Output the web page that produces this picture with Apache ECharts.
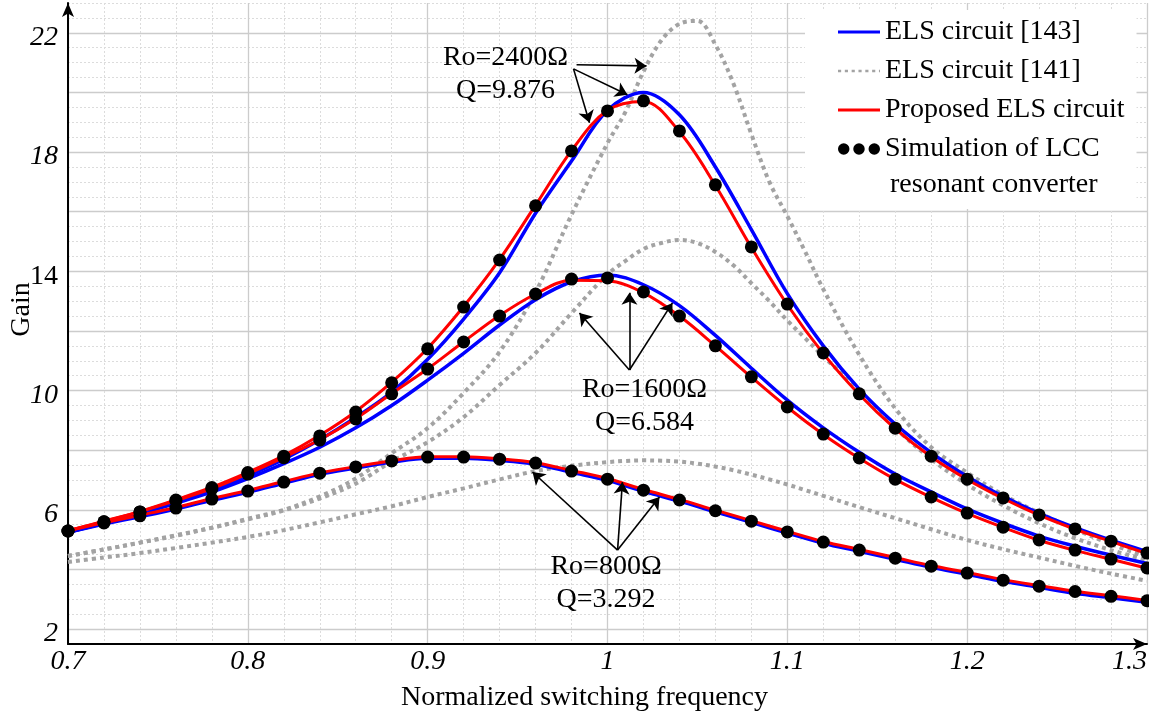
<!DOCTYPE html>
<html><head><meta charset="utf-8">
<script src="https://cdn.jsdelivr.net/npm/echarts@6/dist/echarts.min.js"></script>
<style>html,body{margin:0;padding:0;background:#fff}#c{width:1149px;height:715px}</style>
</head><body><div id="c"></div>
<script>
// ---- data ----
const xGrid = [0.70,0.72,0.74,0.76,0.78,0.80,0.82,0.84,0.86,0.88,0.90,0.92,0.94,0.96,0.98,1.00,1.02,1.04,1.06,1.08,1.10,1.12,1.14,1.16,1.18,1.20,1.22,1.24,1.26,1.28,1.30];
const xGray = [0.70,0.72,0.74,0.76,0.78,0.80,0.82,0.84,0.86,0.88,0.90,0.92,0.94,0.96,0.98,1.00,1.01,1.02,1.03,1.04,1.05,1.06,1.07,1.08,1.09,1.10,1.11,1.12,1.14,1.16,1.18,1.20,1.22,1.24,1.26,1.28,1.30];

const sim2400 = [5.29,5.6,5.93,6.33,6.75,7.25,7.8,8.48,9.28,10.26,11.4,12.8,14.38,16.2,18.04,19.38,19.72,18.71,16.9,14.82,12.9,11.26,9.89,8.74,7.8,7.03,6.4,5.83,5.36,4.95,4.55];
const sim1600 = [5.29,5.6,5.93,6.3,6.7,7.2,7.75,8.34,9.05,9.89,10.72,11.63,12.5,13.24,13.74,13.78,13.31,12.5,11.5,10.46,9.45,8.54,7.74,7.03,6.43,5.89,5.42,4.99,4.65,4.35,4.05];
const sim800  = [5.29,5.56,5.8,6.06,6.36,6.63,6.93,7.23,7.44,7.64,7.77,7.77,7.7,7.57,7.3,7.03,6.66,6.33,5.97,5.62,5.26,4.92,4.65,4.38,4.11,3.88,3.64,3.44,3.26,3.1,2.95];

const red2400 = [5.3,5.62,5.95,6.34,6.76,7.26,7.82,8.5,9.3,10.28,11.42,12.82,14.4,16.22,18.05,19.4,19.7,18.68,16.88,14.8,12.88,11.24,9.87,8.72,7.78,7.02,6.38,5.82,5.35,4.94,4.53];
const red1600 = [5.3,5.61,5.94,6.31,6.71,7.21,7.76,8.35,9.06,9.9,10.73,11.64,12.52,13.24,13.7,13.68,13.28,12.5,11.5,10.45,9.44,8.53,7.73,7.02,6.42,5.88,5.41,4.98,4.64,4.34,4.04];
const red800  = [5.3,5.57,5.82,6.08,6.38,6.65,6.95,7.24,7.45,7.65,7.78,7.78,7.71,7.58,7.32,7.05,6.68,6.35,5.99,5.64,5.28,4.94,4.67,4.4,4.13,3.9,3.66,3.46,3.27,3.12,2.96];

const blue2400 = [5.25,5.57,5.9,6.28,6.68,7.15,7.7,8.35,9.1,9.95,11.05,12.4,13.95,15.95,17.7,19.4,20.0,19.25,17.5,15.4,13.25,11.5,10.05,8.88,7.92,7.12,6.45,5.88,5.4,4.98,4.6];
const blue1600 = [5.25,5.55,5.87,6.22,6.6,7.05,7.55,8.1,8.75,9.5,10.35,11.25,12.2,13.05,13.65,13.88,13.55,12.85,11.85,10.75,9.68,8.75,7.93,7.2,6.6,6.03,5.55,5.12,4.78,4.48,4.2];
const blue800  = [5.25,5.52,5.77,6.03,6.32,6.59,6.89,7.19,7.4,7.6,7.73,7.73,7.66,7.53,7.26,6.99,6.62,6.29,5.93,5.58,5.22,4.88,4.61,4.34,4.07,3.84,3.6,3.4,3.2,3.05,2.9];

const gray2400 = [4.45,4.67,4.9,5.15,5.4,5.7,6.0,6.45,7.05,7.9,8.74,9.92,11.3,13.3,15.9,18.3,19.35,20.7,21.75,22.3,22.4,21.6,20.3,18.6,17.0,15.85,14.65,13.4,11.2,9.4,8.1,7.25,6.5,5.9,5.35,4.85,4.42];
const gray1600 = [4.45,4.67,4.9,5.13,5.4,5.68,5.98,6.38,6.88,7.62,8.27,9.11,10.19,11.26,12.6,13.9,14.35,14.75,14.95,15.05,14.95,14.65,14.2,13.6,13.0,12.35,11.75,11.15,10.0,8.75,7.7,6.85,6.15,5.55,5.05,4.65,4.32];
const gray800  = [4.25,4.4,4.55,4.72,4.9,5.09,5.32,5.58,5.85,6.12,6.43,6.72,7.02,7.3,7.48,7.6,7.64,7.66,7.65,7.62,7.55,7.45,7.33,7.18,7.02,6.85,6.66,6.47,6.09,5.72,5.35,4.99,4.68,4.4,4.12,3.86,3.62];

const legendNames = ['ELS circuit [143]','ELS circuit [141]','Proposed ELS circuit','Simulation of LCC'];
const legendSecondLine = 'resonant converter';
const xAxisTitle = 'Normalized switching frequency';
const yAxisTitle = 'Gain';

// annotation texts and anchor points (data units)
const noteTexts = ['Ro=2400\u03A9\nQ=9.876','Ro=1600\u03A9\nQ=6.584','Ro=800\u03A9\nQ=3.292'];
const noteAt = [[0.9433,20.61],[1.0206,9.48],[0.9992,3.54]];
// arrows: [from, to] in data units
const arrows = [
  [[0.9828,20.93],[1.0217,20.89]],
  [[0.9811,20.79],[1.0111,19.92]],
  [[0.9811,20.79],[0.9900,18.98]],
  [[1.0122,10.69],[0.9844,12.60]],
  [[1.0122,10.69],[1.0122,13.28]],
  [[1.0122,10.69],[1.0361,12.94]],
  [[1.0056,4.65],[0.9583,7.27]],
  [[1.0056,4.65],[1.0083,6.93]],
  [[1.0056,4.65],[1.0289,6.43]]
];

// ---- chart ----
const FONT = '"Liberation Serif","Times New Roman",serif';
const MAJOR = '#cccccc', MINOR = '#dcdcdc', NONE = 'rgba(0,0,0,0)';
const BLUE = '#0000ff', RED = '#ff0000', GRAY = '#a3a3a3';
function pairs(xs, ys) { return xs.map((x, i) => [x, ys[i]]); }

const chart = echarts.init(document.getElementById('c'));

function lineSeries(name, xs, ys, color, width, z, type) {
  return {
    type: 'line', name: name, data: pairs(xs, ys), symbol: 'none', smooth: 0.35,
    z: z, itemStyle: { color: color },
    lineStyle: { color: color, width: width, type: type || 'solid', cap: 'butt' }
  };
}
function simSeries(ys) {
  return { type: 'scatter', name: legendNames[3], data: pairs(xGrid, ys), symbol: 'circle', symbolSize: 13,
    itemStyle: { color: '#000', opacity: 1 }, z: 6 };
}

const solidIcon = 'path://M0,0H40V3H0Z';
const dottedIcon = 'path://M0,0h3v2.4h-3z M6.5,0h3v2.4h-3z M13,0h3v2.4h-3z M19.5,0h3v2.4h-3z M26,0h3v2.4h-3z M32.5,0h3v2.4h-3z M39,0h1v2.4h-1z';
const dotsIcon = 'path://M0,6a6,6 0 1,0 12,0a6,6 0 1,0 -12,0Z M16,6a6,6 0 1,0 12,0a6,6 0 1,0 -12,0Z M32,6a6,6 0 1,0 12,0a6,6 0 1,0 -12,0Z';

const option = {
  animation: false,
  backgroundColor: '#fff',
  grid: { left: 68, right: 2, top: 3, bottom: 71, containLabel: false, outerBoundsMode: 'none' },
  legend: {
    orient: 'vertical', left: 805, top: 10, itemWidth: 42, itemHeight: 14, itemGap: 11,
    padding: [8, 12, 46, 33], backgroundColor: '#fff', selectedMode: false, z: 20,
    textStyle: { fontFamily: FONT, fontSize: 28, color: '#000' },
    data: [
      { name: legendNames[0], icon: solidIcon },
      { name: legendNames[1], icon: dottedIcon },
      { name: legendNames[2], icon: solidIcon },
      { name: legendNames[3], icon: dotsIcon }
    ]
  },
  graphic: [{
    type: 'text', left: 890, top: 171, z: 100,
    style: { text: legendSecondLine, font: '28px ' + FONT, fill: '#000' }
  }],
  xAxis: [{
    type: 'value', min: 0.7, max: 1.3, interval: 0.02,
    name: xAxisTitle, nameLocation: 'middle', nameGap: 40, nameMoveOverlap: false,
    nameTextStyle: { fontFamily: FONT, fontSize: 28, color: '#000', padding: [0, 46, 0, 0] },
    axisLine: { show: true, lineStyle: { color: '#000', width: 2 }, symbol: ['none', 'arrow'], symbolSize: [9, 14] },
    axisTick: { show: false },
    axisLabel: {
      fontFamily: FONT, fontSize: 28, fontStyle: 'italic', color: '#000', margin: 4, alignMaxLabel: 'right',
      formatter: v => { const k = Math.round(v * 100); return k % 10 === 0 ? String(k / 100) : ''; }
    },
    splitLine: { show: true, lineStyle: { color: [NONE, MINOR, MINOR, MINOR, MINOR], width: 1, type: [2, 2] } }
  }, {
    type: 'value', min: 0.7, max: 1.3, interval: 0.02, position: 'top',
    axisLine: { show: false }, axisTick: { show: false }, axisLabel: { show: false },
    splitLine: { show: true, lineStyle: { color: [MAJOR, NONE, NONE, NONE, NONE], width: 1.3, type: 'solid' } }
  }],
  yAxis: [{
    type: 'value', min: 1.5, max: 23, interval: 0.5,
    name: yAxisTitle, nameLocation: 'middle', nameGap: 32, nameRotate: 90, nameMoveOverlap: false,
    nameTextStyle: { fontFamily: FONT, fontSize: 28, color: '#000', padding: [0, 0, 0, 28] },
    axisLine: { show: true, lineStyle: { color: '#000', width: 2 }, symbol: ['none', 'arrow'], symbolSize: [9, 14] },
    axisTick: { show: false },
    axisLabel: {
      fontFamily: FONT, fontSize: 28, fontStyle: 'italic', color: '#000', margin: 10, padding: [10, 0, 0, 0],
      rich: { u: { fontFamily: FONT, fontSize: 28, fontStyle: 'normal', color: '#000' } },
      formatter: v => { const r = Math.round(v * 2) / 2; if (Number.isInteger(r) && (r - 2) % 4 === 0) { return r === 14 ? '{u|14}' : String(r); } return ''; }
    },
    splitLine: { show: true, lineStyle: { color: [MINOR, NONE, MINOR, MINOR], width: 1, type: [2, 2] } }
  }, {
    type: 'value', min: 1.5, max: 23, interval: 0.5, position: 'right',
    axisLine: { show: false }, axisTick: { show: false }, axisLabel: { show: false },
    splitLine: { show: true, lineStyle: { color: [NONE, MAJOR, NONE, NONE], width: 1.3, type: 'solid' } }
  }],
  series: [
    lineSeries(legendNames[1], xGray, gray2400, GRAY, 4, 2, [4, 4]),
    lineSeries(legendNames[1], xGray, gray1600, GRAY, 4, 2, [4, 4]),
    lineSeries(legendNames[1], xGray, gray800, GRAY, 4, 2, [4, 4]),
    lineSeries(legendNames[0], xGrid, blue2400, BLUE, 3.5, 3),
    lineSeries(legendNames[0], xGrid, blue1600, BLUE, 3.5, 3),
    lineSeries(legendNames[0], xGrid, blue800, BLUE, 3.5, 3),
    lineSeries(legendNames[2], xGrid, red2400, RED, 3, 4),
    lineSeries(legendNames[2], xGrid, red1600, RED, 3, 4),
    lineSeries(legendNames[2], xGrid, red800, RED, 3, 4),
    simSeries(sim2400),
    simSeries(sim1600),
    simSeries(sim800),
    {
      type: 'line', name: 'annotations', data: [], z: 8, silent: true,
      markLine: {
        silent: true, symbol: ['none', 'arrow'], symbolSize: 12, animation: false,
        lineStyle: { color: '#000', width: 1.6, type: 'solid' }, label: { show: false },
        data: arrows.map(a => [{ coord: a[0] }, { coord: a[1] }])
      },
      markPoint: {
        silent: true, symbol: 'rect', symbolSize: 1, itemStyle: { color: NONE }, animation: false,
        label: { show: true, position: 'inside', color: '#000', fontFamily: FONT, fontSize: 28, lineHeight: 33, formatter: '{b}' },
        data: noteTexts.map((t, i) => ({ name: t, coord: noteAt[i] }))
      }
    }
  ]
};
chart.setOption(option);
</script></body></html>
